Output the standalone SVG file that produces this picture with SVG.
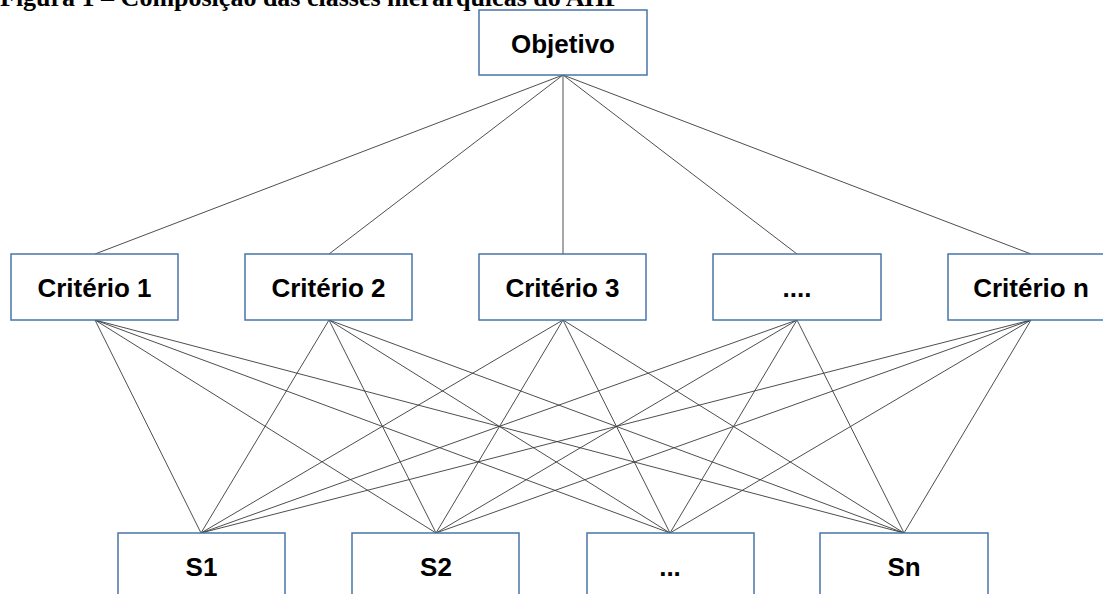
<svg xmlns="http://www.w3.org/2000/svg" width="1103" height="594" viewBox="0 0 1103 594">
<style>
.box{fill:#fff;stroke:#4a76a8;stroke-width:1.5}
.lbl{font-family:"Liberation Sans",Arial,sans-serif;font-weight:bold;font-size:26px;fill:#000;text-anchor:middle}
.ln{stroke:#3a3a3a;stroke-width:0.9;fill:none}
.title{font-family:"Liberation Serif","Times New Roman",serif;font-weight:bold;font-size:26px;fill:#000}
</style>
<rect width="1103" height="594" fill="#fff"/>
<text class="title" x="0" y="6">Figura 1 – Composição das classes hierárquicas do AHP</text>
<g id="connectors">
<path class="ln" d="M563 75L95 254M563 75L329 254M563 75L563 254M563 75L797 254M563 75L1031 254"/>
<path class="ln" d="M95 320L201 533M95 320L436 533M95 320L670 533M95 320L904 533"/>
<path class="ln" d="M329 320L201 533M329 320L436 533M329 320L670 533M329 320L904 533"/>
<path class="ln" d="M563 320L201 533M563 320L436 533M563 320L670 533M563 320L904 533"/>
<path class="ln" d="M797 320L201 533M797 320L436 533M797 320L670 533M797 320L904 533"/>
<path class="ln" d="M1031 320L201 533M1031 320L436 533M1031 320L670 533M1031 320L904 533"/>
</g>
<g id="objetivo"><rect class="box" x="479" y="10" width="168" height="65"/><text class="lbl" x="563" y="53">Objetivo</text></g>
<g id="criterio1"><rect class="box" x="11" y="254" width="167" height="66"/><text class="lbl" x="94.5" y="296.5">Critério 1</text></g>
<g id="criterio2"><rect class="box" x="245" y="254" width="167" height="66"/><text class="lbl" x="328.5" y="296.5">Critério 2</text></g>
<g id="criterio3"><rect class="box" x="479" y="254" width="167" height="66"/><text class="lbl" x="562.5" y="296.5">Critério 3</text></g>
<g id="criterio4"><rect class="box" x="713" y="254" width="168" height="66"/><text class="lbl" x="797" y="296.5">....</text></g>
<g id="criterion"><rect class="box" x="948" y="254" width="167" height="66"/><text class="lbl" x="1031" y="296.5">Critério n</text></g>
<g id="s1"><rect class="box" x="118" y="533" width="167" height="80"/><text class="lbl" x="201.5" y="575.5">S1</text></g>
<g id="s2"><rect class="box" x="352" y="533" width="167" height="80"/><text class="lbl" x="436" y="575.5">S2</text></g>
<g id="s3"><rect class="box" x="587" y="533" width="167" height="80"/><text class="lbl" x="670" y="575.5">...</text></g>
<g id="sn"><rect class="box" x="820" y="533" width="168" height="80"/><text class="lbl" x="904" y="575.5">Sn</text></g>
</svg>
